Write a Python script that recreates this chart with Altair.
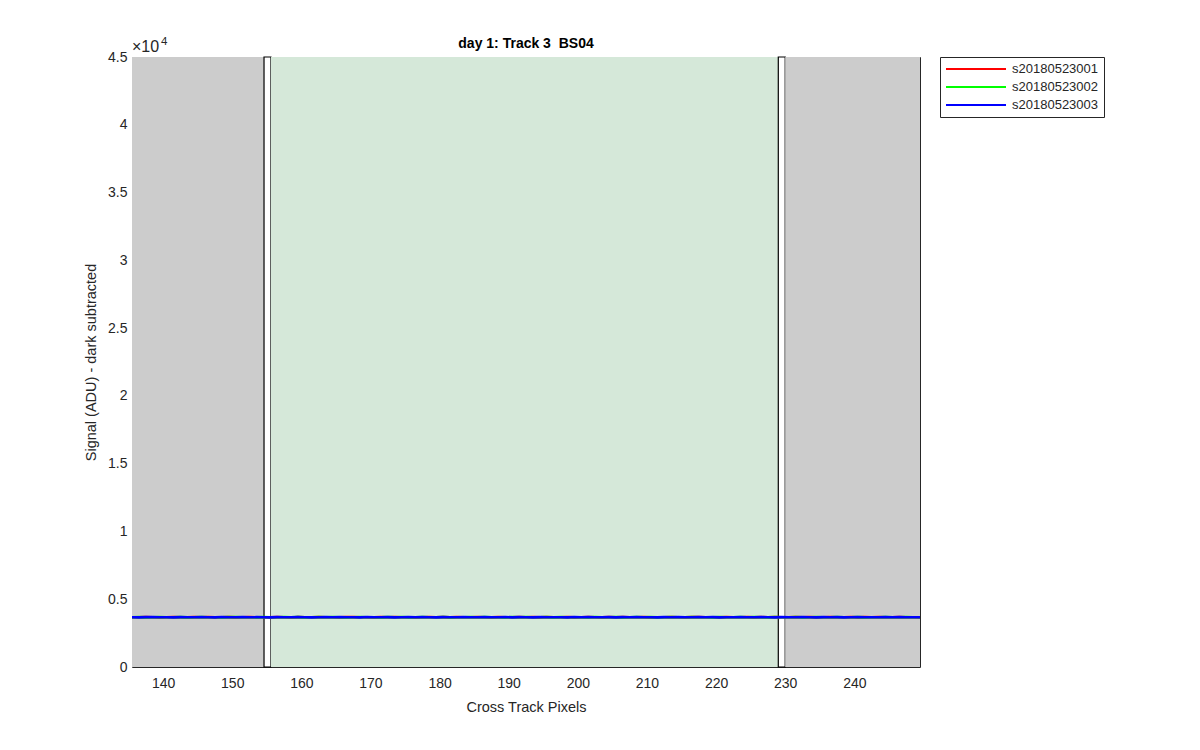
import altair as alt
import pandas as pd

FONT = "Liberation Sans"

# ---------------- data ----------------
series_names = ["s20180523001", "s20180523002", "s20180523003"]
series_colors = ["#ff0000", "#00ff00", "#0000ff"]

pixels = [135.5 + i for i in range(115)]

sig_001 = [
    3672, 3665, 3680, 3668, 3659, 3674, 3683, 3670, 3662, 3677,
    3669, 3688, 3664, 3671, 3679, 3660, 3673, 3685, 3667, 3675,
    3663, 3678, 3670, 3656, 3681, 3672, 3666, 3684, 3669, 3674,
    3661, 3677, 3687, 3668, 3673, 3664, 3679, 3670, 3682, 3666,
    3675, 3660, 3671, 3686, 3669, 3676, 3663, 3680, 3672, 3667,
    3684, 3670, 3659, 3678, 3673, 3665, 3681, 3669, 3676, 3662,
    3688, 3671, 3667, 3679, 3664, 3674, 3683, 3668, 3661, 3677,
    3670, 3685, 3666, 3673, 3680, 3663, 3675, 3669, 3682, 3671,
    3660, 3678, 3686, 3667, 3672, 3664, 3681, 3674, 3668, 3676,
    3662, 3679, 3670, 3687, 3665, 3673, 3683, 3669, 3677, 3661,
    3674, 3680, 3668, 3671, 3685, 3663, 3676, 3670, 3682, 3666,
    3673, 3678, 3669, 3675, 3664,
]
sig_002 = [
    3668, 3676, 3661, 3673, 3684, 3666, 3670, 3679, 3663, 3675,
    3681, 3667, 3672, 3660, 3677, 3686, 3669, 3674, 3664, 3680,
    3671, 3665, 3683, 3668, 3676, 3662, 3673, 3678, 3667, 3685,
    3670, 3663, 3675, 3681, 3666, 3672, 3659, 3677, 3669, 3684,
    3664, 3673, 3680, 3667, 3671, 3687, 3662, 3675, 3668, 3679,
    3665, 3682, 3670, 3674, 3661, 3678, 3669, 3686, 3666, 3673,
    3677, 3663, 3680, 3670, 3675, 3668, 3662, 3684, 3672, 3667,
    3679, 3664, 3674, 3688, 3669, 3676, 3661, 3673, 3680, 3666,
    3671, 3683, 3667, 3675, 3663, 3678, 3670, 3665, 3682, 3672,
    3676, 3668, 3660, 3679, 3674, 3669, 3685, 3664, 3671, 3677,
    3667, 3673, 3681, 3665, 3670, 3678, 3662, 3675, 3669, 3684,
    3666, 3672, 3679, 3668, 3674,
]
sig_003 = [
    3670, 3662, 3677, 3684, 3667, 3673, 3659, 3680, 3671, 3666,
    3678, 3674, 3663, 3685, 3669, 3672, 3681, 3665, 3676, 3668,
    3660, 3679, 3673, 3667, 3686, 3670, 3664, 3675, 3682, 3669,
    3677, 3666, 3671, 3660, 3683, 3674, 3668, 3679, 3663, 3672,
    3687, 3667, 3676, 3670, 3661, 3680, 3673, 3665, 3684, 3669,
    3674, 3678, 3666, 3671, 3685, 3663, 3677, 3670, 3659, 3681,
    3668, 3675, 3672, 3664, 3686, 3669, 3678, 3673, 3666, 3680,
    3662, 3676, 3671, 3683, 3667, 3674, 3660, 3679, 3670, 3685,
    3665, 3672, 3677, 3668, 3681, 3663, 3675, 3669, 3688, 3671,
    3666, 3680, 3674, 3662, 3678, 3670, 3667, 3683, 3672, 3664,
    3679, 3669, 3676, 3661, 3673, 3684, 3668, 3675, 3670, 3681,
    3665, 3677, 3671, 3674, 3668,
]

# background regions (cross-track pixel ranges)
region_x0 = [135.5, 154.6, 155.6, 229.0, 230.0]
region_x1 = [154.6, 155.6, 229.0, 230.0, 249.5]
region_fill = ["#cccccc", "#ffffff", "#d5e8d9", "#ffffff", "#cccccc"]
region_edge = ["transparent", "#000000", "transparent", "#000000", "transparent"]

x_ticks = [140, 150, 160, 170, 180, 190, 200, 210, 220, 230, 240]
y_ticks = [0, 5000, 10000, 15000, 20000, 25000, 30000, 35000, 40000, 45000]
x_domain = [135.5, 249.5]
y_domain = [0, 45000]

TITLE = "day 1: Track 3\u00a0\u00a0BS04"

# ---------------- tables ----------------
rows = []
for name, vals in zip(series_names, [sig_001, sig_002, sig_003]):
    for i, (px, v) in enumerate(zip(pixels, vals)):
        rows.append({"pixel": px, "signal": v, "series": name, "order": i})
df_lines = pd.DataFrame(rows)

df_regions = pd.DataFrame({
    "x0": region_x0, "x1": region_x1,
    "y0": [y_domain[0]] * 5, "y1": [y_domain[1]] * 5,
    "fill": region_fill, "edge": region_edge,
})

xscale = alt.Scale(domain=x_domain, nice=False, zero=False)
yscale = alt.Scale(domain=y_domain, nice=False, zero=False)

AX = dict(labelFont=FONT, labelFontSize=14, labelColor="#262626",
          titleFont=FONT, titleFontSize=14.5, titleFontWeight="normal",
          titleColor="#262626", tickSize=0, domain=False, grid=False)

xaxis = alt.Axis(values=x_ticks, title="Cross Track Pixels", labelPadding=9,
                 titlePadding=10, **AX)
yaxis = alt.Axis(values=y_ticks, title="Signal (ADU) - dark subtracted",
                 labelExpr="datum.value / 10000 + ''", labelPadding=5,
                 titlePadding=9, **AX)

regions = alt.Chart(df_regions).mark_rect(strokeWidth=1.2).encode(
    x=alt.X("x0:Q", scale=xscale, axis=xaxis),
    x2="x1:Q",
    y=alt.Y("y0:Q", scale=yscale, axis=yaxis),
    y2="y1:Q",
    fill=alt.Fill("fill:N", scale=None),
    stroke=alt.Stroke("edge:N", scale=None),
)

legend = alt.Legend(title=None, orient="none", legendX=808, legendY=0,
                    symbolType="stroke", symbolSize=3600,
                    symbolStrokeWidth=2, clipHeight=14,
                    labelFontSize=13, labelFont=FONT,
                    labelColor="#262626", labelOffset=5,
                    rowPadding=4, padding=5,
                    strokeColor="#262626", fillColor="#ffffff")

line_layers = []
for name in series_names:
    line_layers.append(
        alt.Chart(df_lines).transform_filter(alt.datum.series == name)
        .mark_line(strokeWidth=2.6, clip=True).encode(
            x=alt.X("pixel:Q", scale=xscale, axis=xaxis),
            y=alt.Y("signal:Q", scale=yscale, axis=yaxis),
            color=alt.Color("series:N",
                            scale=alt.Scale(domain=series_names, range=series_colors),
                            legend=legend),
            order="order:Q",
        )
    )

df_exp = pd.DataFrame({"x": [x_domain[0]], "y": [y_domain[1]]})
exp_base = alt.Chart(df_exp).mark_text(text="×10", align="left", baseline="alphabetic",
                                       font=FONT, fontSize=16, color="#262626",
                                       dx=0, dy=-5).encode(
    x=alt.X("x:Q", scale=xscale, axis=xaxis), y=alt.Y("y:Q", scale=yscale, axis=yaxis))
exp_pow = alt.Chart(df_exp).mark_text(text="4", align="left", baseline="alphabetic",
                                      font=FONT, fontSize=11.5, color="#262626",
                                      dx=29, dy=-12).encode(
    x=alt.X("x:Q", scale=xscale, axis=xaxis), y=alt.Y("y:Q", scale=yscale, axis=yaxis))

chart = alt.layer(regions, *line_layers, exp_base, exp_pow).properties(
    width=788, height=610,
    background="#ffffff",
    title=alt.TitleParams(TITLE, anchor="middle", offset=6, dy=21,
                          font=FONT, fontSize=14, fontWeight="bold", color="#000000"),
    autosize=alt.AutoSizeParams(type="none"),
    padding={"left": 124, "top": 49, "right": 270, "bottom": 75},
).configure_view(stroke="#262626", strokeWidth=1)

chart.save("out.html", embed_options={"renderer": "svg", "actions": False})
